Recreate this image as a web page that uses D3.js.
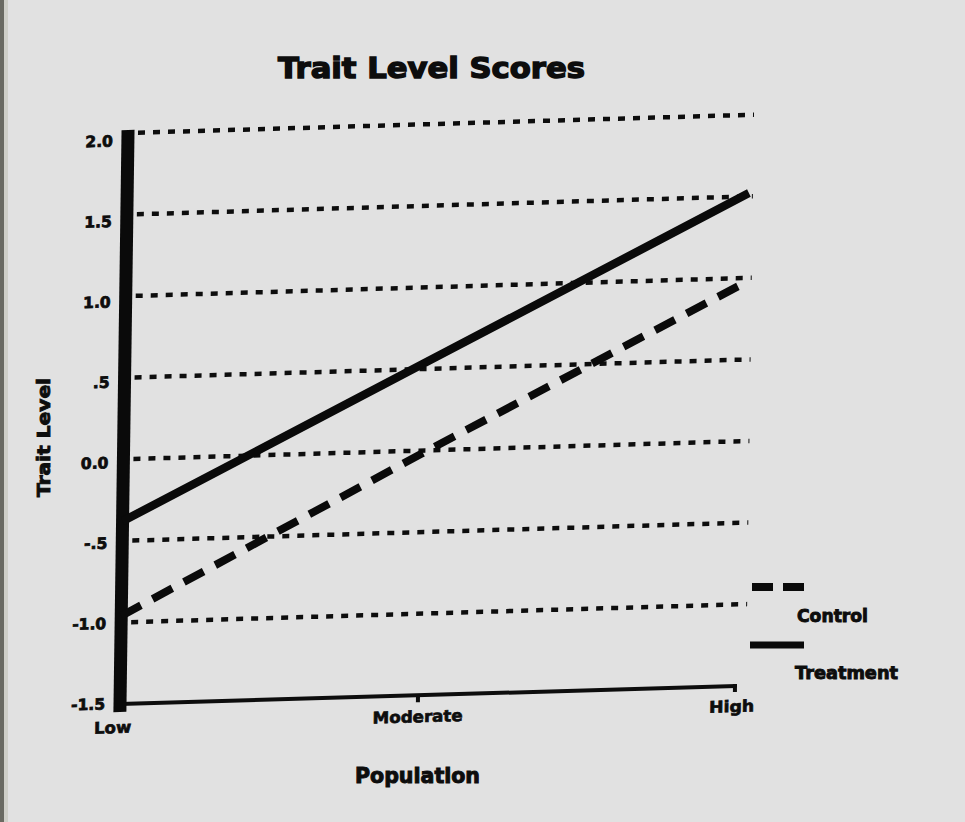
<!DOCTYPE html>
<html>
<head>
<meta charset="utf-8">
<script src="https://cdn.jsdelivr.net/npm/d3@7"></script>
<style>
  html, body { margin: 0; padding: 0; background: #e1e1e1; }
  svg { display: block; }
  text { font-family: "DejaVu Sans", "Liberation Sans", Arial, sans-serif; font-weight: bold; fill: #0d0d0d; stroke: #0d0d0d; }
</style>
</head>
<body>
<svg id="chart" width="965" height="822"></svg>
<script>
// Categories on the x axis
const categories = ["Low", "Moderate", "High"];
// Trait level per population group
const controlValues = [-0.96, -0.02, 0.98];
const treatmentValues = [-0.38, 0.53, 1.52];
// Y tick values and their printed labels
const yTicks = [2.0, 1.5, 1.0, 0.5, 0.0, -0.5, -1.0, -1.5];
const yTickLabels = ["2.0", "1.5", "1.0", ".5", "0.0", "-.5", "-1.0", "-1.5"];

const svg = d3.select("#chart");
const W = 622, H = 571;

// Paper tone with a darker page edge at the left
svg.append("rect").attr("width", 965).attr("height", 822).attr("fill", "#e1e1e1");
svg.append("rect").attr("x", 0).attr("y", 0).attr("width", 4).attr("height", 822).attr("fill", "#6a6a62");
svg.append("rect").attr("x", 4).attr("y", 0).attr("width", 4).attr("height", 822).attr("fill", "#cfcfc8");

svg.append("text")
  .attr("x", 278).attr("y", 78)
  .attr("font-size", 28)
  .attr("textLength", 307).attr("lengthAdjust", "spacingAndGlyphs")
  .style("stroke-width", 1.4)
  .text("Trait Level Scores");

// Plot area, slightly sheared like the printed page
const g = svg.append("g")
  .attr("transform", `matrix(1,${-18/615},${-8/571},1,128,133)`);

const x = d3.scaleOrdinal().domain(categories).range([0, 298, W]);
const y = d3.scaleLinear().domain([-1.5, 2.0]).range([H, 0]);

// Dotted reference lines
g.append("g").selectAll("line")
  .data(yTicks.filter(d => d > -1.5))
  .join("line")
  .attr("x1", 10).attr("x2", W + 4)
  .attr("y1", d => y(d)).attr("y2", d => y(d))
  .attr("stroke", "#0d0d0d").attr("stroke-width", 4.5)
  .attr("stroke-dasharray", "7 8");

// X axis baseline and ticks
g.append("line")
  .attr("x1", 0).attr("x2", 616)
  .attr("y1", H).attr("y2", H)
  .attr("stroke", "#0d0d0d").attr("stroke-width", 4);
g.append("line")
  .attr("x1", x("Moderate")).attr("x2", x("Moderate"))
  .attr("y1", H).attr("y2", H + 7)
  .attr("stroke", "#0d0d0d").attr("stroke-width", 4);
g.append("line")
  .attr("x1", 615).attr("x2", 615)
  .attr("y1", H + 6).attr("y2", H - 2)
  .attr("stroke", "#0d0d0d").attr("stroke-width", 4);

// Heavy y axis bar
g.append("line")
  .attr("x1", 0).attr("x2", 0)
  .attr("y1", -3).attr("y2", H + 8)
  .attr("stroke", "#0a0a0a").attr("stroke-width", 13);

// Y tick labels (printed baseline drifts a little lower toward the top)
g.append("g").selectAll("text")
  .data(yTicks)
  .join("text")
  .attr("x", -15)
  .attr("y", d => y(d) + 5 + 2.3 * (d + 1.5))
  .attr("text-anchor", "end")
  .attr("font-size", 15.5)
  .style("stroke-width", 0.8)
  .text((d, i) => yTickLabels[i]);

// X category labels
const labelY = { Low: H + 29, Moderate: H + 27, High: H + 26 };
const labelDx = { Low: -7, Moderate: 0, High: -10 };
const labelW = { Low: 37, Moderate: 90, High: 45 };
g.append("g").selectAll("text")
  .data(categories)
  .join("text")
  .attr("x", d => x(d) + labelDx[d] - labelW[d] / 2)
  .attr("y", d => labelY[d])
  .attr("font-size", 16)
  .attr("textLength", d => labelW[d]).attr("lengthAdjust", "spacingAndGlyphs")
  .style("stroke-width", 0.7)
  .text(d => d);

const line = d3.line().x((d, i) => x(categories[i])).y(d => y(d));

g.append("path")
  .datum(treatmentValues)
  .attr("d", line)
  .attr("fill", "none")
  .attr("stroke", "#0a0a0a").attr("stroke-width", 8.5);

g.append("path")
  .datum(controlValues)
  .attr("d", line)
  .attr("fill", "none")
  .attr("stroke", "#0a0a0a").attr("stroke-width", 8)
  .attr("stroke-dasharray", "22 13");

// Axis titles
svg.append("text")
  .attr("transform", "translate(50,497) rotate(-90)")
  .attr("font-size", 18)
  .attr("textLength", 119).attr("lengthAdjust", "spacingAndGlyphs")
  .style("stroke-width", 0.9)
  .text("Trait Level");

svg.append("text")
  .attr("x", 355).attr("y", 783)
  .attr("font-size", 21)
  .attr("textLength", 125).attr("lengthAdjust", "spacingAndGlyphs")
  .style("stroke-width", 1)
  .text("Population");

// Legend
const legend = svg.append("g");
legend.append("line")
  .attr("x1", 752).attr("x2", 806).attr("y1", 587).attr("y2", 587)
  .attr("stroke", "#0a0a0a").attr("stroke-width", 8)
  .attr("stroke-dasharray", "21 10");
legend.append("text")
  .attr("x", 797).attr("y", 622)
  .attr("font-size", 17)
  .attr("textLength", 71).attr("lengthAdjust", "spacingAndGlyphs")
  .style("stroke-width", 0.9)
  .text("Control");
legend.append("line")
  .attr("x1", 750).attr("x2", 804).attr("y1", 645).attr("y2", 645)
  .attr("stroke", "#0a0a0a").attr("stroke-width", 7);
legend.append("text")
  .attr("x", 795).attr("y", 679)
  .attr("font-size", 17)
  .attr("textLength", 103).attr("lengthAdjust", "spacingAndGlyphs")
  .style("stroke-width", 0.9)
  .text("Treatment");
</script>
</body>
</html>
